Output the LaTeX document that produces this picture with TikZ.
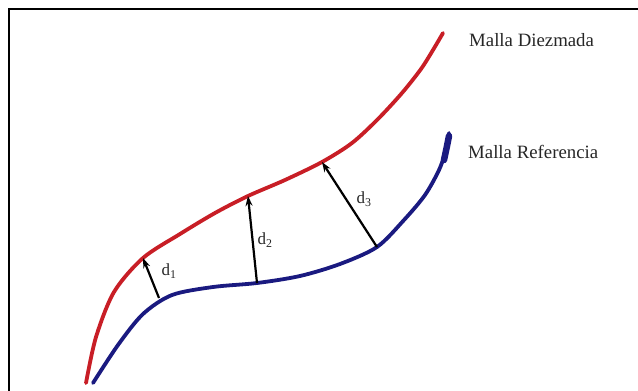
\documentclass[tikz,border=0pt]{standalone}
\usepackage{fontspec}
\setmainfont{Liberation Serif}
\usetikzlibrary{arrows.meta}

\definecolor{diezred}{RGB}{200,30,38}
\definecolor{refblue}{RGB}{26,26,128}

\begin{document}
\begin{tikzpicture}[
  x=1pt, y=-1pt,
  >=Stealth,
  malla/.style={line width=3.8pt, line cap=round, line join=round},
  lbl/.style={font=\fontsize{18.8}{22}\selectfont, text=black!85, inner sep=0pt, anchor=base west},
  dlbl/.style={font=\fontsize{17}{20}\selectfont, text=black!85, inner sep=0pt},
  dist/.style={-{Stealth[length=10pt, width=7pt]}, line width=2.2pt},
]
  \useasboundingbox (0,0) rectangle (638,391);
  \draw[line width=2.4pt] (9,392) -- (9,9) -- (639,9);

  % decimated mesh
  \draw[malla, diezred] plot[smooth] coordinates {
    (86,383) (96,337) (114,292) (143,258) (180,234) (215,213)
    (248,196) (285,180) (322,162) (352,143) (378,119) (402,93)
    (421,69) (433,50) (443,33)};

  % reference mesh
  \draw[malla, refblue] plot[smooth] coordinates {
    (93,383) (118,345) (143,314) (172,295) (213,287) (257,283)
    (300,276) (340,264) (377,247) (404,220) (425,195) (439,170)
    (446,150) (449,133)};
  \draw[refblue, line width=6.5pt, line cap=round] (444,160) -- (447,146) -- (449,136);

  \coordinate (r1) at (143,258);
  \coordinate (r2) at (248,196);
  \coordinate (r3) at (322,162);
  \coordinate (b1) at (159,298);
  \coordinate (b2) at (257,283);
  \coordinate (b3) at (377,247);

  \draw[dist] (b1) -- (r1);
  \draw[dist] (b2) -- (r2);
  \draw[dist] (b3) -- (r3);

  \node[dlbl] (d1) at (169,271) {d\textsubscript{1}};
  \node[dlbl] (d2) at (265,240) {d\textsubscript{2}};
  \node[dlbl] (d3) at (364,199) {d\textsubscript{3}};

  \node[lbl] (diez) at (469,46) {Malla Diezmada};
  \node[lbl] (ref) at (468,158) {Malla Referencia};
\end{tikzpicture}
\end{document}
